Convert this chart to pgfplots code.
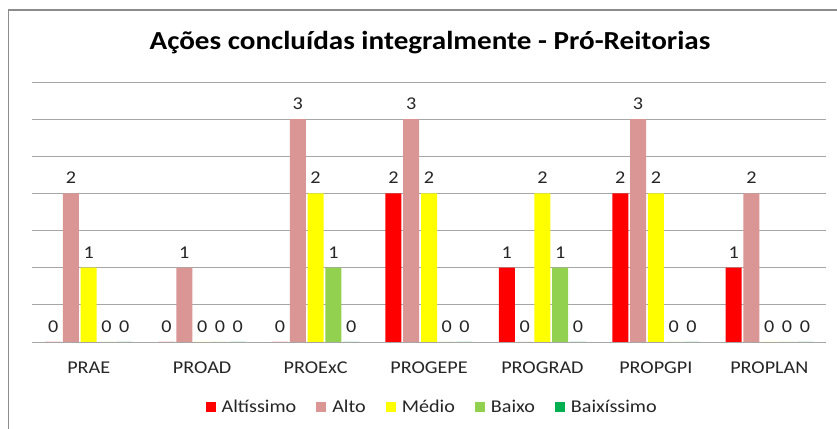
\documentclass[border=0pt]{standalone}
\usepackage{fontspec}
\setmainfont{Carlito}[FakeStretch=1.12]
\usepackage{pgfplots}
\pgfplotsset{compat=1.18}
\definecolor{cA}{HTML}{FF0000}
\definecolor{cB}{HTML}{D99694}
\definecolor{cC}{HTML}{FFFF00}
\definecolor{cD}{HTML}{92D050}
\definecolor{cE}{HTML}{00B050}
\definecolor{gridc}{HTML}{A6A6A6}
\definecolor{framec}{HTML}{8C8C8C}
\definecolor{txt}{HTML}{262626}
\newcommand{\sm}{\fontsize{18bp}{21bp}\selectfont}
\begin{document}
\begin{tikzpicture}
\useasboundingbox (0,0) rectangle (837bp,429bp);
\fill[white] (0,0) rectangle (837bp,429bp);
\draw[framec, line width=1.8bp] (8.5bp,0bp) -- (8.5bp,419bp) -- (837bp,419bp);
\node[anchor=base, font=\fontsize{26bp}{29bp}\selectfont\bfseries, text=black] at (430bp,379bp) {Ações concluídas integralmente - Pró-Reitorias};
\begin{axis}[
  at={(32bp,87bp)}, anchor=south west,
  scale only axis, width=794bp, height=260bp,
  xmin=-0.5, xmax=6.5, ymin=0, ymax=3.5, enlargelimits=false,
  clip=false,
  ybar=1.8bp, bar width=16bp,
  axis line style={draw=none},
  xtick={0,1,2,3,4,5,6},
  xticklabels={PRAE,PROAD,PROExC,PROGEPE,PROGRAD,PROPGPI,PROPLAN},
  xtick pos=bottom,
  major x tick style={draw=none},
  extra x ticks={-0.5,0.5,1.5,2.5,3.5,4.5,5.5,6.5},
  extra x tick labels={},
  extra x tick style={major tick length=5bp, tick align=outside, xmajorgrids=false, tick style={draw=gridc, line width=0.8bp}},
  x tick label style={font=\sm, text=txt, yshift=-12bp},
  ytick={0,0.5,1,1.5,2,2.5,3,3.5},
  yticklabels={},
  major y tick style={draw=none},
  ymajorgrids,
  major grid style={draw=gridc, line width=0.8bp},
  /pgf/number format/assume math mode=true,
  nodes near coords,
  every node near coord/.append style={font=\sm, text=txt, yshift=6bp},
  legend style={at={(0.504,-0.25)}, anchor=center, draw=none, fill=none, font=\sm, text=txt,
    /tikz/every odd column/.append style={column sep=4bp},
    /tikz/every even column/.append style={column sep=18bp}},
  legend columns=5,
  legend image code/.code={\fill[#1] (0bp,-5bp) rectangle (10bp,5bp);},
]
\addplot[fill=cA, draw=none] coordinates {(0,0) (1,0) (2,0) (3,2) (4,1) (5,2) (6,1)};
\addplot[fill=cB, draw=none] coordinates {(0,2) (1,1) (2,3) (3,3) (4,0) (5,3) (6,2)};
\addplot[fill=cC, draw=none] coordinates {(0,1) (1,0) (2,2) (3,2) (4,2) (5,2) (6,0)};
\addplot[fill=cD, draw=none] coordinates {(0,0) (1,0) (2,1) (3,0) (4,1) (5,0) (6,0)};
\addplot[fill=cE, draw=none] coordinates {(0,0) (1,0) (2,0) (3,0) (4,0) (5,0) (6,0)};
\legend{Altíssimo,Alto,Médio,Baixo,Baixíssimo}
\end{axis}
\end{tikzpicture}
\end{document}
